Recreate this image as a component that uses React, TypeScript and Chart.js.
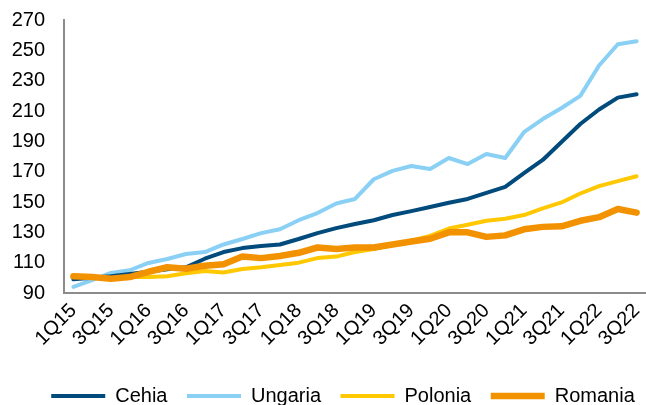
import React, { useEffect, useRef } from "react";
import { Chart, registerables } from "chart.js";

Chart.register(...registerables);

const quarters = [
  "1Q15", "2Q15", "3Q15", "4Q15",
  "1Q16", "2Q16", "3Q16", "4Q16",
  "1Q17", "2Q17", "3Q17", "4Q17",
  "1Q18", "2Q18", "3Q18", "4Q18",
  "1Q19", "2Q19", "3Q19", "4Q19",
  "1Q20", "2Q20", "3Q20", "4Q20",
  "1Q21", "2Q21", "3Q21", "4Q21",
  "1Q22", "2Q22", "3Q22",
];

const cehia = [99, 100, 101, 102.5, 104, 105.6, 107, 112.6, 117, 119.6, 121, 122, 125.6, 129.5, 132.8, 135.5, 138, 141.4, 144, 146.7, 149.5, 152, 156, 160, 169, 177.7, 189.6, 201.4, 211, 218.8, 221];
const ungaria = [94, 98.5, 103.2, 105, 109.8, 112.4, 115.7, 117, 122, 125.6, 129.5, 132, 138, 142.7, 149, 152, 165, 170.5, 173.7, 171.8, 179, 175, 181.6, 179, 196, 204.7, 212, 220, 240, 254, 256];
const polonia = [100.5, 100.5, 100.5, 100.5, 100.5, 101, 103, 104.5, 103.5, 105.8, 107, 108.5, 110, 113, 114, 117, 119, 121.6, 124.5, 127.6, 132.5, 135, 137.6, 139, 141.4, 145.8, 149.7, 155.6, 160.5, 163.8, 167];
const romania = [101, 100.5, 99.4, 100.5, 104, 107, 106, 108, 109, 114, 113, 114.4, 116.5, 120, 119, 120, 120, 122, 124, 125.8, 130, 130, 127, 128, 132, 133.6, 134, 137.6, 140, 145.4, 143];

const yMin = 90;
const yMax = 270;
const yStep = 20;

export default function App() {
  const ref = useRef<HTMLCanvasElement | null>(null);

  useEffect(() => {
    if (!ref.current) return;
    const font = "'Liberation Sans', Arial, sans-serif";
    const mk = (label: string, data: number[], color: string, width: number, order: number) => ({
      label,
      data,
      borderColor: color,
      backgroundColor: color,
      borderWidth: width,
      pointRadius: 0,
      pointHoverRadius: 0,
      tension: 0,
      fill: false,
      borderCapStyle: "round" as const,
      borderJoinStyle: "round" as const,
      order,
      yAxisID: "y",
    });
    const chart = new Chart(ref.current, {
      type: "line",
      data: {
        labels: quarters,
        datasets: [
          mk("Cehia", cehia, "#004b7c", 4, 1),
          mk("Ungaria", ungaria, "#8ad0f5", 4, 3),
          mk("Polonia", polonia, "#ffc800", 4, 2),
          mk("Romania", romania, "#f39200", 6.5, 0),
        ],
      },
      options: {
        animation: false,
        responsive: true,
        maintainAspectRatio: false,
        layout: { padding: { left: 0, right: 0, top: 20, bottom: 0 } },
        plugins: {
          tooltip: { enabled: false },
          legend: {
            position: "bottom",
            labels: {
              usePointStyle: true,
              pointStyle: "line",
              pointStyleWidth: 54,
              boxHeight: 20,
              padding: 19.5,
              color: "#000",
              font: { family: font, size: 20 },
              sort: (a: any, b: any) => a.datasetIndex - b.datasetIndex,
            },
          },
        },
        scales: {
          x: {
            offset: true,
            grid: { display: false, drawTicks: false },
            border: { display: true, color: "#8c8c8c", width: 2 },
            ticks: {
              autoSkip: false,
              maxRotation: 45,
              minRotation: 45,
              padding: 6,
              color: "#000",
              font: { family: font, size: 20 },
              callback: (_v: any, i: number) => (i % 2 === 0 ? quarters[i] : ""),
            },
            afterFit: (s: any) => {
              s.height = 73.5;
            },
          },
          y: {
            min: yMin,
            max: yMax,
            grid: { display: false, drawTicks: false },
            border: { display: true, color: "#8c8c8c", width: 2 },
            ticks: {
              stepSize: yStep,
              padding: 19,
              color: "#000",
              font: { family: font, size: 20 },
            },
            afterFit: (s: any) => {
              s.width = 64;
              s.paddingTop = 0;
              s.paddingBottom = 0;
            },
          },
          yRight: {
            position: "right",
            display: true,
            grid: { display: false, drawTicks: false },
            border: { display: false },
            ticks: { display: false },
            afterFit: (s: any) => {
              s.width = 40;
              s.paddingTop = 0;
              s.paddingBottom = 0;
            },
          },
        },
      },
    });
    return () => chart.destroy();
  }, []);

  return (
    <div style={{ position: "fixed", left: 0, top: 0, width: 686, height: 416 }}>
      <canvas ref={ref} />
    </div>
  );
}
